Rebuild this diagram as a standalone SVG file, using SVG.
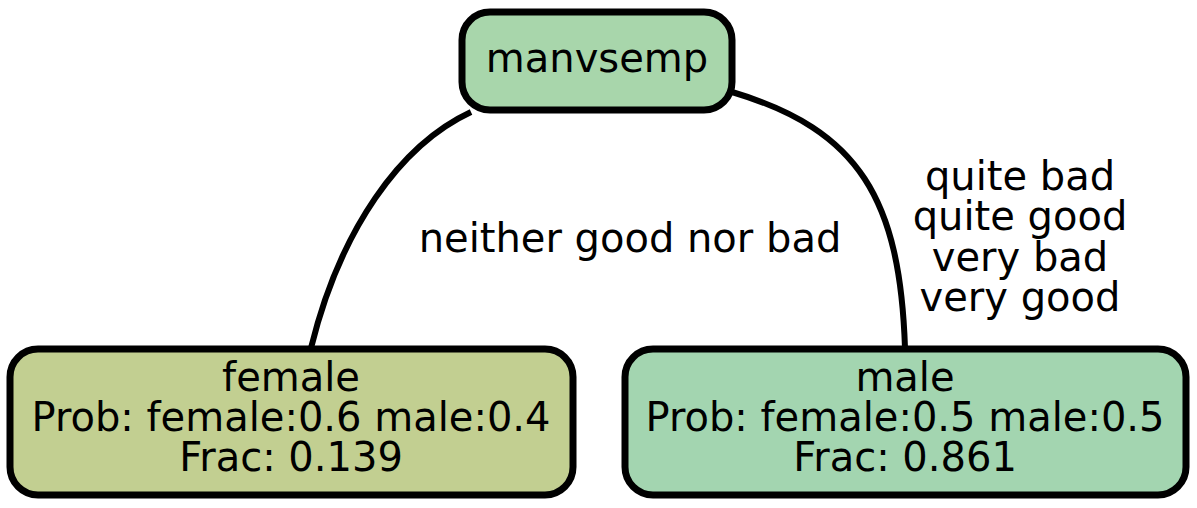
<svg xmlns="http://www.w3.org/2000/svg" width="1197" height="508" viewBox="0 0 1197 508">
<style>
text{font-family:"DejaVu Sans",sans-serif;font-size:40px;fill:#000;text-anchor:middle}
.n{stroke:#000;stroke-width:7}
.e{fill:none;stroke:#000;stroke-width:6}
</style>
<rect width="1197" height="508" fill="#fff"/>
<g id="connectors">
<path class="e" d="M471,112 C400,145 340,230 311,348"/>
<path class="e" d="M732,92 C860,130 900,200 905,348"/>
<text x="630" y="252">neither good nor bad</text>
<text x="1020" y="190">quite bad</text>
<text x="1020" y="230">quite good</text>
<text x="1020" y="271">very bad</text>
<text x="1020" y="311">very good</text>
</g>
<g id="manvsemp">
<rect class="n" x="462" y="12" width="270" height="98" rx="28" fill="#a8d6ab"/>
<text x="597" y="72">manvsemp</text>
</g>
<g id="female">
<rect class="n" x="10" y="349" width="563" height="146" rx="28" fill="#c2cf91"/>
<text x="291" y="391">female</text>
<text x="291" y="431">Prob: female:0.6 male:0.4</text>
<text x="291" y="471">Frac: 0.139</text>
</g>
<g id="male">
<rect class="n" x="625" y="349" width="561" height="146" rx="28" fill="#a3d5b0"/>
<text x="905" y="391">male</text>
<text x="905" y="431">Prob: female:0.5 male:0.5</text>
<text x="905" y="471">Frac: 0.861</text>
</g>
</svg>
